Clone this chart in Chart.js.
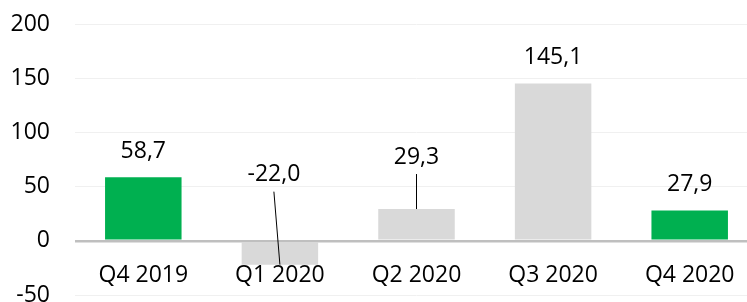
<!DOCTYPE html>
<html>
<head>
<meta charset="utf-8">
<script src="https://cdn.jsdelivr.net/npm/chart.js@4"></script>
<style>
    html, body { margin: 0; padding: 0; background: #fff; overflow: hidden; }
    #wrap { width: 758px; height: 302px; }
</style>
</head>
<body>
<div id="wrap"><canvas id="chart"></canvas></div>
<script>
// Datos del gráfico
const quarters = ['Q4 2019', 'Q1 2020', 'Q2 2020', 'Q3 2020', 'Q4 2020'];
const values = [58.7, -22.0, 29.3, 145.1, 27.9];
const highlighted = [true, false, false, false, true];
const yTicks = [-50, 0, 50, 100, 150, 200];

const GREEN = '#00b050';
const GREY = '#d9d9d9';
const FONT = { family: "'Open Sans', 'Liberation Sans', sans-serif", size: 23 };

// etiquetas desplazadas con línea guía (px respecto al extremo de la barra)
const leaderLabels = {
    1: { dx: -6, dy: -90 },
    2: { dx: 0, dy: -52 }
};

const fmt = v => v.toFixed(1).replace('.', ',');

const valueLabels = {
    id: 'valueLabels',
    afterDatasetsDraw(chart) {
        const ctx = chart.ctx;
        const meta = chart.getDatasetMeta(0);
        ctx.save();
        ctx.font = `${FONT.size}px ${FONT.family}`;
        ctx.fillStyle = '#000';
        ctx.textAlign = 'center';
        ctx.textBaseline = 'middle';
        meta.data.forEach((bar, i) => {
            const lead = leaderLabels[i];
            let x = bar.x, y;
            if (lead) {
                x = bar.x + lead.dx;
                y = bar.y + lead.dy;
                ctx.strokeStyle = '#000';
                ctx.lineWidth = 1;
                ctx.beginPath();
                ctx.moveTo(x, y + 17);
                ctx.lineTo(bar.x, bar.y);
                ctx.stroke();
            } else {
                y = bar.y - 26;
            }
            ctx.fillText(fmt(values[i]), x, y);
        });
        ctx.restore();
    }
};

new Chart(document.getElementById('chart'), {
    type: 'bar',
    data: {
        labels: quarters,
        datasets: [{
            data: values,
            backgroundColor: highlighted.map(h => h ? GREEN : GREY),
            categoryPercentage: 1,
            barPercentage: 0.56
        }]
    },
    options: {
        responsive: true,
        maintainAspectRatio: false,
        animation: false,
        layout: { padding: { top: 24, left: 10, right: 0, bottom: 7 } },
        plugins: {
            legend: { display: false },
            tooltip: { enabled: false }
        },
        scales: {
            x: {
                position: { y: 0 },
                z: 1,
                grid: { display: false },
                border: { display: false },
                ticks: { color: '#000', font: FONT, padding: 13 },
                afterFit: s => { s.paddingLeft = 0; s.paddingRight = 0; }
            },
            y: {
                min: -50,
                max: 200,
                afterBuildTicks: axis => { axis.ticks = yTicks.map(v => ({ value: v })); },
                afterFit: s => { s.width = 65; s.paddingTop = 0; s.paddingBottom = 0; },
                border: { display: false },
                grid: {
                    drawTicks: false,
                    color: ctx => ctx.tick && ctx.tick.value === 0 ? '#bfbfbf' : '#f0f0f0',
                    lineWidth: ctx => ctx.tick && ctx.tick.value === 0 ? 2.5 : 1
                },
                ticks: { color: '#000', font: FONT, padding: 25 }
            }
        }
    },
    plugins: [valueLabels]
});
</script>
</body>
</html>
